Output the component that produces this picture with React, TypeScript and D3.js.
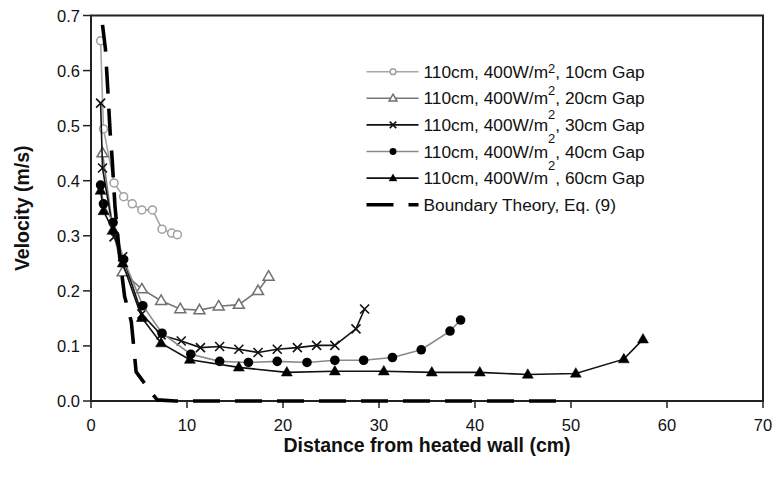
import React from "react";
import * as d3 from "d3";

// ---------- data ----------
const gap10X = [1.0, 1.3, 2.4, 3.4, 4.3, 5.3, 6.4, 7.4, 8.4, 9.0];
const gap10Y = [0.654, 0.494, 0.396, 0.371, 0.358, 0.347, 0.347, 0.312, 0.305, 0.302];

const gap20X = [1.2, 2.3, 3.3, 5.3, 7.3, 9.3, 11.3, 13.3, 15.4, 17.4, 18.5];
const gap20Y = [0.45, 0.31, 0.234, 0.203, 0.182, 0.167, 0.165, 0.172, 0.175, 0.2, 0.226];

const gap30X = [1.0, 1.2, 2.4, 3.3, 5.3, 7.3, 9.4, 11.4, 13.4, 15.4, 17.4, 19.4, 21.5, 23.5, 25.4, 27.6, 28.5];
const gap30Y = [0.541, 0.423, 0.298, 0.262, 0.158, 0.12, 0.109, 0.097, 0.099, 0.094, 0.088, 0.094, 0.097, 0.101, 0.101, 0.131, 0.167];

const gap40X = [1.0, 1.3, 2.3, 3.4, 5.4, 7.4, 10.4, 13.4, 16.4, 19.4, 22.5, 25.4, 28.4, 31.4, 34.4, 37.4, 38.5];
const gap40Y = [0.392, 0.358, 0.324, 0.257, 0.173, 0.123, 0.085, 0.072, 0.07, 0.072, 0.07, 0.074, 0.074, 0.079, 0.093, 0.127, 0.147];

const gap60X = [1.0, 1.3, 2.3, 3.3, 5.3, 7.3, 10.3, 15.4, 20.4, 25.4, 30.5, 35.5, 40.5, 45.5, 50.5, 55.5, 57.5];
const gap60Y = [0.382, 0.345, 0.31, 0.25, 0.151, 0.105, 0.075, 0.061, 0.052, 0.054, 0.054, 0.052, 0.052, 0.048, 0.05, 0.076, 0.112];

const theoryX = [1.2, 1.5, 1.75, 2.0, 2.2, 2.5, 3.0, 3.5, 4.2, 4.7, 6.3, 6.9, 8.8, 10, 20, 30, 40, 50];
const theoryY = [0.683, 0.64, 0.565, 0.486, 0.44, 0.353, 0.26, 0.19, 0.144, 0.053, 0.015, 0.002, 0.0, 0.0, 0.0, 0.0, 0.0, 0.0];

const legendLabels = ["10cm", "20cm", "30cm", "40cm", "60cm"];
const theoryLabel = "Boundary Theory, Eq. (9)";
const xTicks = [0, 10, 20, 30, 40, 50, 60, 70];
const yTicks = [0, 0.1, 0.2, 0.3, 0.4, 0.5, 0.6, 0.7];
const xTitle = "Distance from heated wall (cm)";
const yTitle = "Velocity (m/s)";

// ---------- layout ----------
const W = 776;
const H = 477;
const L = 91, R = 763, T = 15.5, B = 401;
const FONT = "'Liberation Sans', Arial, Helvetica, sans-serif";

type Kind = "openCircle" | "openTri" | "x" | "dot" | "tri";
const seriesStyle: { line: string; mark: string; kind: Kind }[] = [
  { line: "#a6a6a6", mark: "#a0a0a0", kind: "openCircle" },
  { line: "#777777", mark: "#707070", kind: "openTri" },
  { line: "#111111", mark: "#111111", kind: "x" },
  { line: "#8a8a8a", mark: "#000000", kind: "dot" },
  { line: "#111111", mark: "#000000", kind: "tri" },
];
const supRaise = [5, 9, 12, 15, 14];

function Marker({ kind, cx, cy, color, s = 1 }: { kind: Kind; cx: number; cy: number; color: string; s?: number }) {
  if (kind === "openCircle")
    return <circle cx={cx} cy={cy} r={4 * s} fill="white" stroke={color} strokeWidth={1.5} />;
  if (kind === "dot") return <circle cx={cx} cy={cy} r={4.8 * s} fill={color} />;
  if (kind === "openTri" || kind === "tri") {
    const p = d3.symbol(d3.symbolTriangle, 52 * s * s)() as string;
    return (
      <path
        d={p}
        transform={`translate(${cx},${cy + 0.5})`}
        fill={kind === "tri" ? color : "white"}
        stroke={color}
        strokeWidth={kind === "tri" ? 0.5 : 1.5}
      />
    );
  }
  const a = 4.5 * s;
  return (
    <path
      d={`M${cx - a},${cy - a}L${cx + a},${cy + a}M${cx - a},${cy + a}L${cx + a},${cy - a}`}
      stroke={color}
      strokeWidth={1.6}
      fill="none"
    />
  );
}

export default function App() {
  const x = d3.scaleLinear().domain([0, 70]).range([L, R]);
  const y = d3.scaleLinear().domain([0, 0.7]).range([B, T]);
  const line = d3
    .line<[number, number]>()
    .x((d) => x(d[0]))
    .y((d) => y(d[1]));

  const series = [
    [gap10X, gap10Y],
    [gap20X, gap20Y],
    [gap30X, gap30Y],
    [gap40X, gap40Y],
    [gap60X, gap60Y],
  ].map(([xs, ys]) => xs.map((v, i) => [v, ys[i]] as [number, number]));
  const theory = theoryX.map((v, i) => [v, theoryY[i]] as [number, number]);

  const legX0 = 366.5, legX1 = 418.5, legTextX = 423.5, legY0 = 71.7, legDy = 26.6;

  return (
    <svg
      width={W}
      height={H}
      style={{ position: "absolute", left: 0, top: 0, background: "white" }}
      fontFamily={FONT}
    >
      <rect x={0} y={0} width={W} height={H} fill="white" />
      {/* frame */}
      <rect x={L} y={T} width={R - L} height={B - T} fill="none" stroke="#222" strokeWidth={2} />

      {/* y ticks */}
      {yTicks.map((t) => (
        <g key={"y" + t}>
          <line x1={L - 8} x2={L} y1={y(t)} y2={y(t)} stroke="#222" strokeWidth={1.5} />
          <text x={L - 11} y={y(t) + 6} textAnchor="end" fontSize={16.5} fill="#111">
            {d3.format(".1f")(t)}
          </text>
        </g>
      ))}
      {/* x ticks */}
      {xTicks.map((t) => (
        <g key={"x" + t}>
          <line x1={x(t)} x2={x(t)} y1={B} y2={B + 7} stroke="#222" strokeWidth={1.5} />
          <text x={x(t)} y={431} textAnchor="middle" fontSize={16.5} fill="#111">
            {t}
          </text>
        </g>
      ))}

      {/* series */}
      {series.map((pts, i) => (
        <g key={"s" + i}>
          <path d={line(pts) as string} fill="none" stroke={seriesStyle[i].line} strokeWidth={1.6} />
          {pts.map((p, j) => (
            <Marker key={j} kind={seriesStyle[i].kind} cx={x(p[0])} cy={y(p[1])} color={seriesStyle[i].mark} />
          ))}
        </g>
      ))}

      {/* theory */}
      <path
        d={line(theory) as string}
        fill="none"
        stroke="#000"
        strokeWidth={3.6}
        strokeDasharray="27 15"
      />

      {/* legend */}
      {legendLabels.map((lab, i) => {
        const cy = legY0 + i * legDy;
        const st = seriesStyle[i];
        return (
          <g key={"l" + i}>
            <line x1={legX0} x2={legX1} y1={cy} y2={cy} stroke={st.line} strokeWidth={1.6} />
            <Marker kind={st.kind} cx={(legX0 + legX1) / 2 + 0.5} cy={cy} color={st.mark} s={0.72} />
            <text x={legTextX} y={cy + 6} fontSize={17.3} fill="#111">
              110cm, 400W/m
              <tspan dy={-supRaise[i]} fontSize={13}>2</tspan>
              <tspan dy={supRaise[i]}>, {lab} Gap</tspan>
            </text>
          </g>
        );
      })}
      {(() => {
        const cy = legY0 + 5 * legDy;
        return (
          <g>
            <line x1={legX0} x2={legX1} y1={cy} y2={cy} stroke="#000" strokeWidth={3.6} strokeDasharray="27 15" />
            <text x={legTextX} y={cy + 6} fontSize={17.3} fill="#111">
              {theoryLabel}
            </text>
          </g>
        );
      })()}

      {/* axis titles */}
      <text x={(L + R) / 2} y={452} textAnchor="middle" fontSize={19.5} fontWeight="bold" fill="#111">
        {xTitle}
      </text>
      <text
        transform={`translate(29,${(T + B) / 2}) rotate(-90)`}
        textAnchor="middle"
        fontSize={19.5}
        fontWeight="bold"
        fill="#111"
      >
        {yTitle}
      </text>
    </svg>
  );
}
